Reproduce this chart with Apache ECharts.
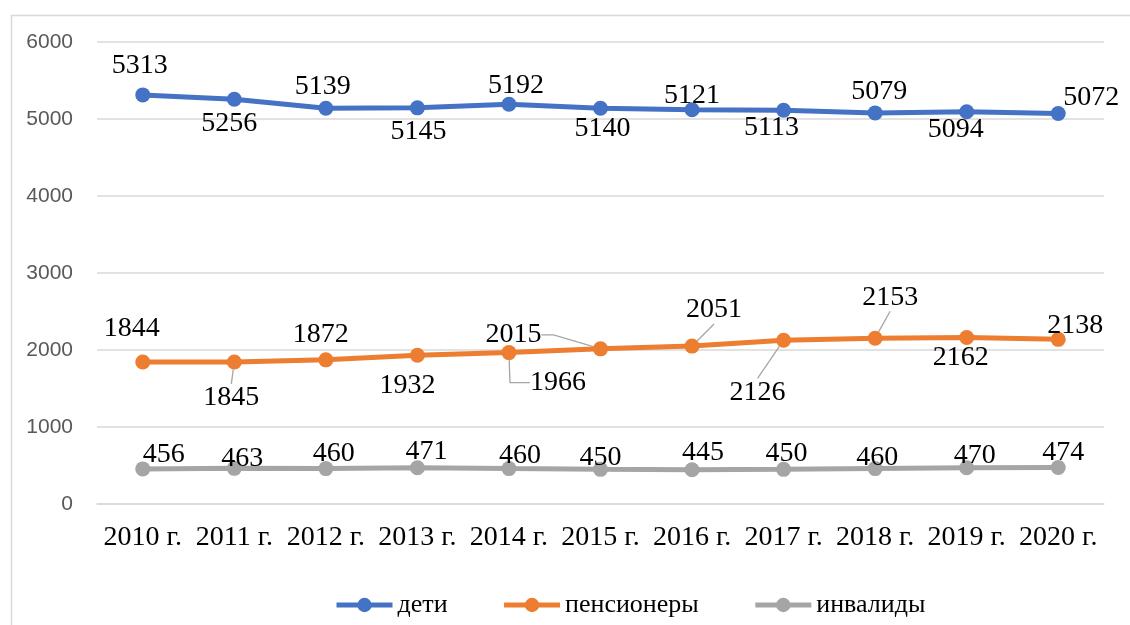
<!DOCTYPE html>
<html>
<head>
<meta charset="utf-8">
<script src="https://cdn.jsdelivr.net/npm/echarts@6/dist/echarts.min.js"></script>
<style>
html,body{margin:0;padding:0;background:#fff;}
#chart{width:1130px;height:625px;}
</style>
</head>
<body>
<div id="chart"></div>
<script>
// ---- data ----
const categories = ['2010 г.','2011 г.','2012 г.','2013 г.','2014 г.','2015 г.','2016 г.','2017 г.','2018 г.','2019 г.','2020 г.'];
const seriesNames = ['дети','пенсионеры','инвалиды'];
const children   = [5313,5256,5139,5145,5192,5140,5121,5113,5079,5094,5072];
const pensioners = [1844,1845,1872,1932,1966,2015,2051,2126,2153,2162,2138];
const disabled   = [456,463,460,471,460,450,445,450,460,470,474];
const yTicks = {min:0, max:6000, interval:1000};

// ---- label placement (style, not data) ----
const labelDx = [
  [-3,-5,-3,1,7,2,0,-12,4,-11,33],
  [-11,-3,-5,-10,49,-87,22,-26,15,-6,17],
  [21,8,8,9,11,0,11,3,2,8,5]
];
const labelDy = [
  [-29,24,-22,24,-19,20,-14,17,-21,18,-16],
  [-33,36,-25,30,30,-14,-36,52,-41,20,-14],
  [-14,-10,-15,-16,-13,-12,-17,-16,-11,-12,-15]
];
// leader lines: dataIndex -> length2
const leaders = [{}, {1:0, 4:20, 5:12, 6:0, 7:0, 8:0}, {}];

const colors = ['#4472C4','#ED7D31','#A5A5A5'];
const values = [children, pensioners, disabled];
const serif = 'Liberation Serif, Times New Roman, serif';

function buildData(si){
  return values[si].map(function(v, i){
    const item = {value: v};
    if (leaders[si][i] !== undefined) {
      item.labelLine = {show: true, length2: leaders[si][i]};
    }
    return item;
  });
}

const chart = echarts.init(document.getElementById('chart'), null, {renderer:'canvas'});
chart.setOption({
  animation: false,
  backgroundColor: '#ffffff',
  color: colors,
  graphic: [{
    type: 'rect', left: 9, top: 13, silent: true, z: -10,
    shape: {width: 1200, height: 700},
    style: {fill: 'none', stroke: '#d9d9d9', lineWidth: 1.5}
  }],
  grid: {left: 97, right: 26, top: 42, bottom: 121, containLabel: false},
  legend: {
    top: 587, left: 329,
    itemWidth: 56, itemHeight: 18, itemGap: 54,
    lineStyle: {width: 5},
    textStyle: {fontFamily: serif, fontSize: 26, color: '#000'},
    data: seriesNames
  },
  xAxis: {
    type: 'category', data: categories, boundaryGap: true,
    axisLine: {show: true, lineStyle: {color: '#d9d9d9', width: 1.5}},
    axisTick: {show: false},
    axisLabel: {fontFamily: serif, fontSize: 28, color: '#000', margin: 20, interval: 0}
  },
  yAxis: {
    type: 'value', min: yTicks.min, max: yTicks.max, interval: yTicks.interval,
    axisLine: {show: false}, axisTick: {show: false},
    axisLabel: {fontFamily: 'Liberation Sans, Arial, sans-serif', fontSize: 21, color: '#595959', margin: 24,
      formatter: function(v){ return String(v); }},
    splitLine: {lineStyle: {color: '#d9d9d9', width: 1.5}}
  },
  series: seriesNames.map(function(name, si){
    return {
      name: name, type: 'line', data: buildData(si),
      symbol: 'circle', symbolSize: 15,
      lineStyle: {width: 5, color: colors[si]},
      itemStyle: {color: colors[si]},
      z: 3 + si,
      label: {show: true, position: 'inside', fontFamily: serif, fontSize: 28, color: '#000'},
      labelLine: {show: false, lineStyle: {color: '#a6a6a6', width: 1.3}},
      labelLayout: function(p){
        return {dx: labelDx[p.seriesIndex][p.dataIndex], dy: labelDy[p.seriesIndex][p.dataIndex]};
      },
      emphasis: {disabled: true}
    };
  })
});
</script>
</body>
</html>
